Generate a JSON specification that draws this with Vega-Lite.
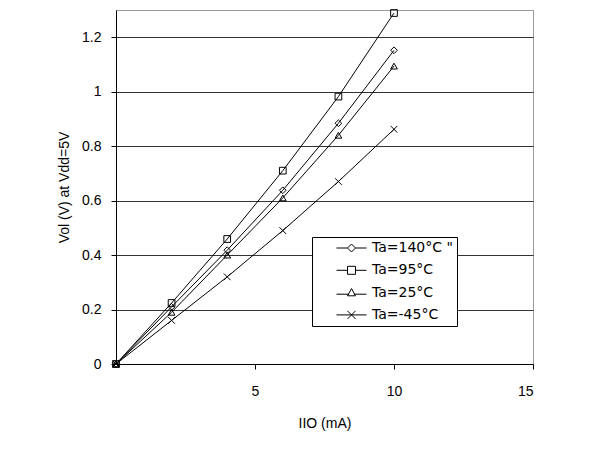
{
  "$schema": "https://vega.github.io/schema/vega-lite/v6.json",
  "width": 417,
  "height": 354,
  "autosize": {"type": "none"},
  "padding": {"left": 116, "top": 10, "right": 59, "bottom": 104},
  "background": "white",
  "config": {
    "font": "Liberation Sans",
    "view": {"stroke": "#999999", "strokeWidth": 1},
    "axis": {
      "labelColor": "black",
      "titleColor": "black",
      "labelFontSize": 14,
      "titleFontSize": 14,
      "titleFontWeight": "normal",
      "domainColor": "black",
      "tickColor": "black",
      "tickSize": 5
    }
  },
  "data": {
    "values": [
      {"series": "Ta=140°C \"", "io": 0, "vol": 0},
      {"series": "Ta=140°C \"", "io": 2, "vol": 0.21},
      {"series": "Ta=140°C \"", "io": 4, "vol": 0.418},
      {"series": "Ta=140°C \"", "io": 6, "vol": 0.638},
      {"series": "Ta=140°C \"", "io": 8, "vol": 0.884},
      {"series": "Ta=140°C \"", "io": 10, "vol": 1.152},
      {"series": "Ta=95°C", "io": 0, "vol": 0},
      {"series": "Ta=95°C", "io": 2, "vol": 0.224},
      {"series": "Ta=95°C", "io": 4, "vol": 0.459},
      {"series": "Ta=95°C", "io": 6, "vol": 0.71},
      {"series": "Ta=95°C", "io": 8, "vol": 0.982},
      {"series": "Ta=95°C", "io": 10, "vol": 1.289},
      {"series": "Ta=25°C", "io": 0, "vol": 0},
      {"series": "Ta=25°C", "io": 2, "vol": 0.19},
      {"series": "Ta=25°C", "io": 4, "vol": 0.4},
      {"series": "Ta=25°C", "io": 6, "vol": 0.61},
      {"series": "Ta=25°C", "io": 8, "vol": 0.84},
      {"series": "Ta=25°C", "io": 10, "vol": 1.094},
      {"series": "Ta=-45°C", "io": 0, "vol": 0},
      {"series": "Ta=-45°C", "io": 2, "vol": 0.16},
      {"series": "Ta=-45°C", "io": 4, "vol": 0.32},
      {"series": "Ta=-45°C", "io": 6, "vol": 0.49},
      {"series": "Ta=-45°C", "io": 8, "vol": 0.67},
      {"series": "Ta=-45°C", "io": 10, "vol": 0.862}
    ]
  },
  "encoding": {
    "x": {
      "field": "io",
      "type": "quantitative",
      "scale": {"domain": [0, 15], "nice": false, "zero": true},
      "axis": {
        "values": [5, 10, 15],
        "grid": false,
        "title": "IIO (mA)",
        "labelPadding": 15,
        "titlePadding": 18
      }
    },
    "y": {
      "field": "vol",
      "type": "quantitative",
      "scale": {"domain": [0, 1.3], "nice": false},
      "axis": {
        "values": [0, 0.2, 0.4, 0.6, 0.8, 1, 1.2],
        "format": "~g",
        "grid": true,
        "gridColor": "#333333",
        "gridWidth": 1,
        "title": "Vol (V) at Vdd=5V",
        "labelPadding": 10,
        "titlePadding": 10
      }
    }
  },
  "layer": [
    {
      "mark": {"type": "line", "color": "black", "strokeWidth": 1},
      "encoding": {"detail": {"field": "series"}}
    },
    {
      "mark": {"type": "point", "filled": false, "stroke": "black", "strokeWidth": 1, "size": 45, "opacity": 1},
      "encoding": {
        "shape": {
          "field": "series",
          "type": "nominal",
          "scale": {
            "domain": ["Ta=140°C \"", "Ta=95°C", "Ta=25°C", "Ta=-45°C"],
            "range": ["diamond", "square", "triangle-up", "M-1,-1L1,1M1,-1L-1,1"]
          },
          "legend": null
        }
      }
    },
    {
      "transform": [{"filter": "datum.vol < 0"}],
      "mark": {"type": "point", "filled": false, "stroke": "black", "strokeWidth": 1, "opacity": 1},
      "encoding": {
        "shape": {
          "field": "series",
          "type": "nominal",
          "scale": {
            "domain": ["Ta=140°C \"", "Ta=95°C", "Ta=25°C", "Ta=-45°C"],
            "range": [
              "M-3.75,0H-1M1,0H3.75M0,-1L1,0L0,1L-1,0Z",
              "M-3.75,0H-1M1,0H3.75M-1,-1H1V1H-1Z",
              "M-3.75,0.4H-0.6M0.6,0.4H3.75M0,-1L1,0.8L-1,0.8Z",
              "M-3.75,0H3.75M-1,-1L1,1M1,-1L-1,1"
            ]
          },
          "legend": {
            "title": null,
            "orient": "none",
            "legendX": 196,
            "legendY": 227,
            "strokeColor": "black",
            "fillColor": "white",
            "padding": 4,
            "symbolSize": 64,
            "symbolOffset": 28.5,
            "labelOffset": 13.5,
            "rowPadding": 8.3,
            "labelFont": "DejaVu Sans",
            "labelFontSize": 14,
            "labelColor": "black",
            "symbolStrokeColor": "black",
            "symbolStrokeWidth": 1
          }
        }
      }
    }
  ],
  "resolve": {"scale": {"shape": "independent"}, "legend": {"shape": "independent"}}
}
